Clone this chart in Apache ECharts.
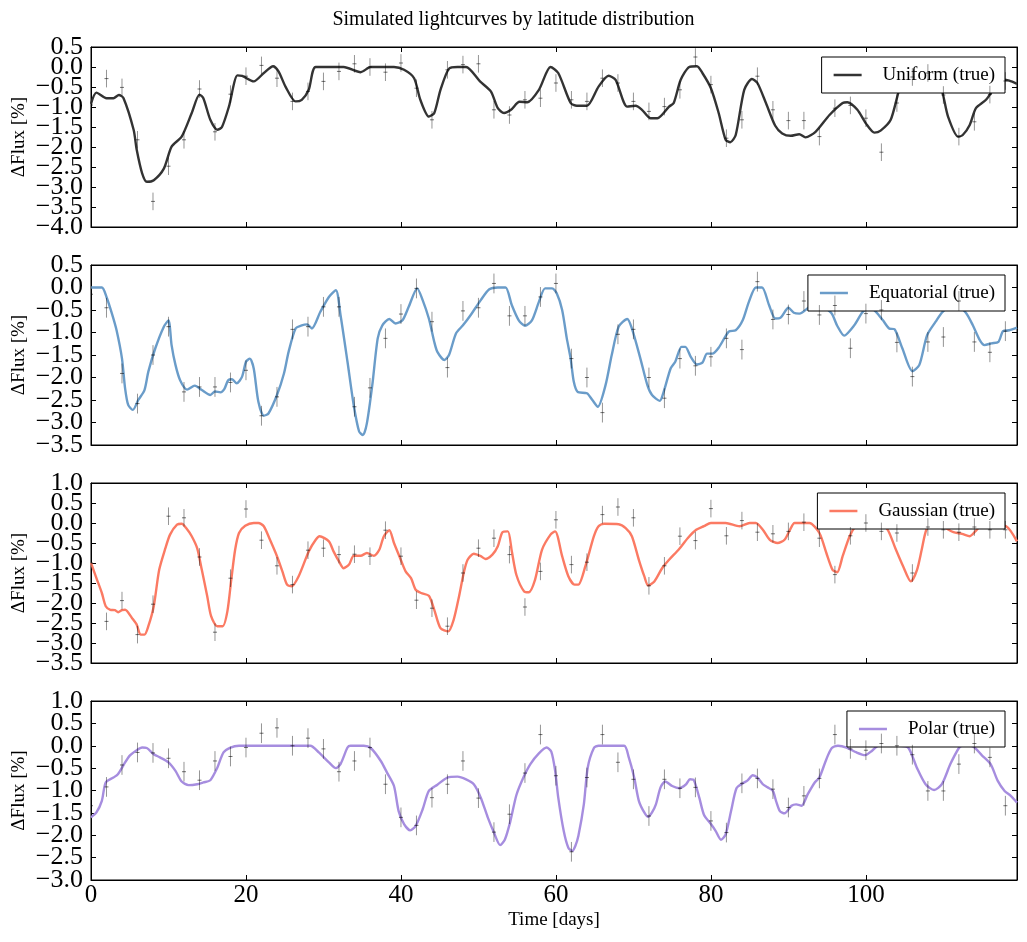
<!DOCTYPE html>
<html>
<head>
<meta charset="utf-8">
<script src="https://cdn.jsdelivr.net/npm/echarts@6/dist/echarts.min.js"></script>
<style>html,body{margin:0;padding:0;background:#fff}#c{width:1027px;height:942px}</style>
</head>
<body>
<div id="c"></div>
<script>
// ---------- DATA ----------
const panelNames = ['Uniform (true)', 'Equatorial (true)', 'Gaussian (true)', 'Polar (true)'];
const yMins = [-4.0, -3.5, -3.5, -3.0];
const yMaxs = [0.5, 0.5, 1.0, 1.0];
const xTicks = [0, 20, 40, 60, 80, 100];
const ERR = 0.22;
const obsTimes = [0,2,4,6,8,10,12,14,16,18,20,22,24,26,28,30,32,34,36,38,40,42,44,46,48,50,52,54,56,58,60,62,64,66,68,70,72,74,76,78,80,82,84,86,88,90,92,94,96,98,100,102,104,106,108,110,112,114,116,118];

const uniformCurve = [[0,-0.92],[0.7,-0.64],[2,-0.78],[2.9,-0.78],[3.6,-0.7],[4.2,-0.78],[5.5,-1.57],[5.9,-2.07],[6.6,-2.66],[7.2,-2.87],[8.1,-2.83],[9.4,-2.54],[10.4,-1.99],[11.7,-1.74],[13,-1.15],[14,-0.69],[14.5,-0.78],[15.4,-1.32],[16.3,-1.57],[16.9,-1.5],[17.8,-0.99],[18.9,-0.21],[19.5,-0.22],[21,-0.36],[22.3,-0.15],[23.5,0.02],[24.2,-0.11],[25.1,-0.49],[26.4,-0.86],[27.2,-0.82],[28.1,-0.57],[29,0],[32.6,0],[34.8,-0.13],[36.1,0],[39.1,0],[40.4,-0.07],[41.7,-0.28],[42.5,-0.82],[43.6,-1.24],[44.3,-1.15],[45.1,-0.57],[46.2,-0.04],[47.3,0],[48.4,0],[50.2,-0.36],[51.6,-0.61],[52.5,-1.03],[53.3,-1.15],[54.2,-1.07],[55.3,-0.87],[56.3,-0.88],[57.8,-0.57],[59.3,0],[60.3,-0.15],[61.9,-0.9],[62.7,-0.97],[64,-0.97],[65.5,-0.49],[66.8,-0.22],[67.7,-0.32],[69.2,-0.99],[70.3,-0.97],[71.1,-1.07],[72.2,-1.28],[73.1,-1.28],[74.6,-0.99],[75.2,-0.9],[76.1,-0.32],[77.2,0],[78.2,0.02],[78.9,-0.15],[80,-0.53],[81,-1.15],[81.9,-1.82],[82.5,-1.88],[83.2,-1.7],[84.3,-0.57],[85.3,-0.3],[86,-0.4],[87.1,-0.9],[88.3,-1.47],[89.2,-1.66],[90.3,-1.72],[91.4,-1.68],[92.2,-1.76],[93.5,-1.62],[95.3,-1.2],[97,-0.9],[97.6,-0.88],[98.9,-1.07],[100,-1.41],[101.1,-1.64],[101.9,-1.59],[103.2,-1.32],[104.3,-0.57],[105,-0.3],[107,-0.05],[109.2,-0.3],[109.9,-0.65],[110.6,-1.24],[111.9,-1.74],[112.5,-1.7],[113.4,-1.45],[114.2,-1.03],[115.5,-0.82],[116.4,-0.57],[117,-0.4],[117.7,-0.32],[118.5,-0.34],[119.5,-0.42]];
const uniformObs = [-0.95,-0.29,-0.51,-1.82,-3.36,-2.48,-1.82,-0.55,-1.62,-0.68,-0.23,0.04,-0.28,-0.86,-0.61,-0.36,-0.11,0.08,0,-0.13,0.1,-0.53,-1.32,-0.07,0.06,0.08,-1.07,-1.2,-0.82,-0.78,-0.4,-0.82,-0.86,-0.28,-0.4,-0.86,-1.11,-0.99,-0.57,0.25,-0.44,-1.78,-1.32,-0.23,-1.07,-1.34,-1.34,-1.74,-1.03,-0.96,-1.28,-2.13,-0.9,-0.25,-0.15,-0.7,-1.74,-1.37,-0.69,-0.35];

const equatorialCurve = [[0,0],[1.4,0],[2,-0.21],[2.7,-0.58],[3.3,-0.95],[4,-1.58],[4.4,-2.24],[4.8,-2.61],[5.4,-2.72],[6.1,-2.5],[6.9,-2.28],[7.4,-1.87],[8.3,-1.35],[9.4,-0.87],[10,-0.73],[10.4,-1.28],[10.9,-1.72],[11.5,-2.06],[12.4,-2.27],[13.4,-2.18],[14.3,-2.28],[15.4,-2.39],[16,-2.31],[16.7,-2.33],[17.2,-2.26],[17.7,-2.06],[18.2,-2.04],[18.8,-2.13],[19.5,-1.98],[20,-1.65],[20.5,-1.58],[21,-1.8],[21.6,-2.54],[22.3,-2.85],[22.9,-2.8],[24,-2.39],[24.9,-1.91],[25.5,-1.43],[26.4,-0.91],[27.2,-0.84],[27.9,-0.82],[28.5,-0.91],[29.6,-0.54],[30.7,-0.21],[31.6,-0.06],[32.2,-0.61],[33.1,-1.65],[33.9,-2.61],[34.6,-3.2],[35.1,-3.28],[35.6,-3.02],[36.3,-2.17],[37,-1.13],[37.6,-0.84],[38.5,-0.7],[39.3,-0.8],[40.2,-0.73],[41,-0.43],[42.1,-0.02],[42.8,-0.28],[43.6,-0.69],[44.3,-1.21],[44.7,-1.43],[45.6,-1.61],[46.2,-1.5],[47.1,-1.02],[48,-0.84],[49,-0.61],[50.3,-0.28],[51.4,-0.04],[52.5,0],[53.5,0],[54.3,-0.39],[55.2,-0.73],[56,-0.85],[56.9,-0.73],[57.8,-0.32],[58.6,-0.02],[59.5,-0.02],[60.1,-0.13],[60.8,-0.5],[61.4,-1.13],[61.9,-1.58],[62.3,-2.09],[62.8,-2.32],[64,-2.35],[64.7,-2.5],[65.4,-2.65],[66.4,-2.17],[67.2,-1.5],[68.1,-0.87],[69.2,-0.7],[69.8,-0.91],[70.9,-1.58],[71.8,-2.17],[72.4,-2.39],[73.4,-2.52],[73.9,-2.32],[74.8,-1.8],[75.4,-1.65],[76.2,-1.32],[76.7,-1.32],[77.4,-1.54],[78.2,-1.71],[78.9,-1.67],[79.5,-1.47],[80.2,-1.47],[81,-1.34],[82.3,-0.98],[83.2,-0.95],[84.1,-0.73],[84.9,-0.32],[85.8,0],[86.6,0],[87.5,-0.39],[88.3,-0.69],[89,-0.67],[90,-0.45],[90.7,-0.56],[91.4,-0.58],[93.5,-0.35],[95.5,-0.56],[96.3,-0.85],[97.2,-1.07],[98.5,-0.84],[99.6,-0.54],[100.5,-0.45],[101.3,-0.54],[102.2,-0.73],[103,-0.91],[103.7,-0.93],[104.7,-1.35],[106,-1.86],[106.9,-1.72],[107.9,-1.06],[109,-0.76],[109.9,-0.54],[111.4,-0.35],[112.9,-0.56],[113.8,-0.84],[114.7,-1.17],[115.3,-1.28],[116.2,-1.24],[117.1,-1.21],[117.7,-0.97],[118.5,-0.95],[119.5,-0.89]];
const equatorialObs = [-0.15,-0.45,-1.91,-2.58,-1.5,-0.87,-2.32,-2.21,-2.21,-2.11,-1.84,-2.85,-2.43,-0.93,-0.87,-0.43,-0.43,-2.65,-2.23,-1.13,-0.59,-0.02,-0.76,-1.78,-0.52,-0.45,0.09,-0.63,-0.63,-0.21,0.09,-1.58,-2.0,-2.78,-1.04,-0.93,-2.0,-2.46,-1.58,-1.74,-1.54,-1.13,-1.38,0.13,-0.71,-0.6,-0.3,-0.61,-0.4,-1.35,-0.58,-0.5,-1.22,-1.98,-1.21,-1.1,-0.3,-1.21,-1.44,-0.97];

const gaussianCurve = [[0,-1.0],[0.7,-1.38],[1.4,-1.75],[1.9,-2.08],[2.5,-2.17],[3.1,-2.18],[3.5,-2.23],[4,-2.18],[4.4,-2.17],[5.3,-2.38],[5.9,-2.54],[6.4,-2.79],[6.9,-2.79],[7.4,-2.58],[8.1,-2.08],[8.8,-1.17],[9.6,-0.63],[10.2,-0.29],[11.1,-0.04],[11.7,-0.02],[12.3,-0.13],[13,-0.33],[13.7,-0.63],[14.3,-1.17],[15,-1.83],[15.5,-2.33],[16.3,-2.58],[17,-2.58],[17.6,-2.21],[18.1,-1.42],[18.6,-0.67],[19.1,-0.25],[19.9,-0.07],[21,0],[21.6,0],[22.3,-0.08],[23.1,-0.42],[24,-0.83],[24.7,-1.21],[25.3,-1.54],[25.9,-1.58],[26.8,-1.33],[28.1,-0.71],[29,-0.42],[29.5,-0.33],[30.7,-0.46],[31.3,-0.71],[32,-0.96],[32.6,-1.13],[33.3,-1.04],[33.9,-0.82],[34.8,-0.82],[35.6,-0.75],[36.5,-0.82],[37.2,-0.67],[37.8,-0.33],[38.5,-0.18],[39.1,-0.5],[39.9,-0.88],[40.6,-1.21],[41.3,-1.38],[41.9,-1.67],[42.6,-1.75],[43.6,-1.82],[44.3,-2.17],[45.1,-2.63],[46.1,-2.71],[46.8,-2.42],[47.5,-1.83],[48.1,-1.25],[48.6,-0.92],[49.4,-0.77],[50.3,-0.83],[50.9,-0.9],[51.8,-0.79],[52.5,-0.58],[53.1,-0.23],[53.8,-0.21],[54.3,-0.7],[54.9,-1.3],[55.9,-1.71],[56.5,-1.73],[57.3,-1.42],[58.2,-0.67],[59.3,-0.29],[59.9,-0.21],[60.8,-0.83],[61.6,-1.33],[62.4,-1.54],[62.9,-1.54],[63.8,-1.08],[64.9,-0.33],[65.5,-0.08],[66.2,-0.02],[68.1,-0.03],[69,-0.13],[69.8,-0.33],[70.7,-0.92],[71.4,-1.33],[71.9,-1.56],[72.7,-1.46],[73.7,-1.13],[74.6,-0.92],[75.9,-0.65],[77,-0.38],[78.1,-0.17],[79.1,-0.08],[80,0],[81.9,0],[83.7,-0.08],[85,0],[85.8,0],[86.7,-0.17],[87.6,-0.42],[88.6,-0.5],[89.5,-0.42],[90.2,-0.17],[90.8,0],[92.7,0],[94,-0.25],[94.9,-0.75],[95.7,-1.17],[96.3,-1.23],[97,-0.83],[97.9,-0.33],[98.6,-0.1],[99.5,0],[102,0],[102.9,-0.2],[103.8,-0.63],[104.8,-1.08],[105.8,-1.46],[106.6,-1.17],[107.2,-0.67],[107.8,-0.17],[108.6,0],[110,-0.1],[111.3,-0.23],[112.4,-0.27],[113.4,-0.33],[114.3,-0.17],[115.2,0],[118.1,-0.08],[119.5,-0.46]];
const gaussianObs = [-1.0,-2.46,-1.94,-2.79,-2.03,0.17,0.13,-0.85,-2.73,-1.38,0.35,-0.43,-1.07,-1.54,-0.68,-0.63,-0.79,-0.78,-0.83,-0.18,-0.83,-1.93,-2.13,-2.58,-1.25,-0.63,-0.38,-0.79,-2.1,-1.21,0.08,-1.04,-0.98,0.21,0.4,0.13,-1.57,-1.07,-0.33,-0.44,0.36,-0.32,0.06,-0.23,-0.27,-0.21,0.02,-0.38,-1.29,-0.32,0,-0.21,-0.25,-1.25,-0.1,-0.17,-0.23,-0.1,-0.17,-0.17];

const polarCurve = [[0,-1.6],[0.7,-1.49],[1.4,-1.23],[1.9,-0.82],[2.9,-0.71],[3.5,-0.63],[4.2,-0.43],[5,-0.22],[5.9,-0.1],[6.6,-0.04],[7.2,-0.05],[8.1,-0.19],[8.9,-0.26],[10,-0.37],[10.9,-0.56],[11.7,-0.8],[12.6,-0.88],[13.7,-0.86],[14.5,-0.82],[15.4,-0.77],[16.3,-0.49],[17.1,-0.15],[18,-0.04],[19.1,0],[28.3,0],[29.4,-0.15],[30.7,-0.37],[31.6,-0.5],[32.2,-0.41],[33.1,-0.04],[33.5,0],[35.2,0],[36.1,-0.05],[37.4,-0.34],[38.2,-0.6],[39.1,-0.9],[39.7,-1.46],[40.4,-1.75],[41.2,-1.89],[41.9,-1.79],[42.8,-1.42],[43.6,-1.01],[44.7,-0.87],[46,-0.71],[47.3,-0.69],[48.4,-0.75],[49.4,-0.86],[50.3,-1.16],[51.2,-1.6],[52,-1.94],[52.8,-2.22],[53.4,-2.1],[54.1,-1.7],[54.9,-1.1],[55.8,-0.71],[56.7,-0.41],[57.8,-0.17],[58.8,-0.04],[59.4,-0.13],[59.9,-0.56],[60.3,-1.16],[61,-1.9],[61.6,-2.28],[62.1,-2.35],[62.5,-2.24],[62.9,-2.01],[63.6,-1.31],[64.1,-0.49],[64.9,-0.05],[65.5,0],[68.8,0],[69.4,-0.26],[70.1,-0.71],[70.7,-1.23],[71.4,-1.49],[71.9,-1.59],[72.4,-1.49],[72.9,-1.31],[73.5,-0.93],[74.1,-0.8],[75,-0.9],[75.9,-0.95],[76.8,-0.86],[77.3,-0.75],[77.8,-0.77],[78.5,-1.16],[79.1,-1.54],[80,-1.75],[80.6,-1.9],[81.3,-2.1],[81.9,-1.98],[82.6,-1.46],[83.3,-0.95],[84.1,-0.84],[84.7,-0.78],[85.4,-0.66],[86,-0.71],[86.7,-0.86],[87.3,-0.93],[88,-1.01],[88.4,-1.23],[88.9,-1.46],[89.5,-1.51],[90.4,-1.34],[91,-1.31],[91.7,-1.34],[92.5,-1.08],[93.4,-0.82],[94,-0.71],[94.9,-0.3],[95.6,-0.05],[96.4,0],[97.5,-0.04],[98.8,-0.15],[99.9,-0.21],[100.8,-0.11],[101.6,0],[104.5,0],[105.5,-0.05],[106.6,-0.5],[107.7,-0.86],[108.8,-0.99],[109.8,-0.86],[110.9,-0.41],[112,-0.05],[112.4,0],[113.6,0],[115,-0.22],[116.1,-0.41],[117,-0.78],[117.9,-1.01],[118.7,-1.12],[119.5,-1.27]];
const polarObs = [-1.34,-0.92,-0.43,-0.15,-0.16,-0.28,-0.58,-0.77,-0.34,-0.24,-0.04,0.28,0.4,0,0.17,-0.07,-0.58,-0.34,-0.04,-0.86,-1.6,-1.78,-1.16,-0.86,-0.34,-1.17,-1.93,-1.53,-0.61,0.25,-0.67,-2.37,-0.71,0.25,-0.37,-0.75,-1.57,-0.75,-0.95,-0.93,-1.68,-1.94,-0.84,-0.73,-0.97,-1.38,-1.12,-0.73,0.25,-0.07,-0.1,0.05,0,-0.2,-1.01,-1.01,-0.41,0.05,-0.26,-1.34];

const curves = [uniformCurve, equatorialCurve, gaussianCurve, polarCurve];
const observations = [uniformObs, equatorialObs, gaussianObs, polarObs];
const colors = ['#333333', '#6a9cc9', '#fb7a63', '#a68ddf'];

// ---------- LAYOUT ----------
const tops = [47, 265, 483, 701];
const heights = [180, 180, 180, 179];
const FONT = "'Liberation Serif', 'DejaVu Serif', serif";
const YSTEP = 0.5;
function fmtYParity(min, parity) {
  return v => {
    const idx = Math.round((v - min) / YSTEP);
    if (idx % 2 !== parity) return '';
    const a = Math.abs(v).toFixed(1);
    return (v < -1e-9 ? '\u2212' : '') + a;
  };
}

const grid = [], xAxis = [], yAxis = [], series = [], legend = [];
for (let i = 0; i < 4; i++) {
  grid.push({left: 91, right: 10, top: tops[i], height: heights[i], show: true,
    containLabel: false, outerBoundsMode: 'none',
    borderColor: '#000', borderWidth: 1, backgroundColor: 'transparent'});
  const tickBase = {show: true, inside: true, length: 5, lineStyle: {color: '#000', width: 1}};
  xAxis.push({type: 'value', gridIndex: i, min: 0, max: 119.5, interval: 20, position: 'bottom',
    axisLine: {show: true, onZero: false, lineStyle: {color: '#000', width: 1}},
    axisTick: tickBase, splitLine: {show: false},
    axisLabel: {show: i === 3, margin: 3, color: '#000', fontFamily: FONT, fontSize: 25,
      showMaxLabel: false, showMinLabel: true,
      formatter: v => (xTicks.indexOf(v) >= 0 ? String(v) : '')},
    name: i === 3 ? 'Time [days]' : '', nameLocation: 'middle', nameGap: 31,
    nameTextStyle: {color: '#000', fontFamily: FONT, fontSize: 19}});
  xAxis.push({type: 'value', gridIndex: i, min: 0, max: 119.5, interval: 20, position: 'top',
    axisLine: {show: true, onZero: false, lineStyle: {color: '#000', width: 1}},
    axisTick: tickBase, splitLine: {show: false}, axisLabel: {show: false}});
  const labelBase = {show: true, margin: 8, color: '#000', fontFamily: FONT, fontSize: 26,
    showMinLabel: true, showMaxLabel: true, hideOverlap: false};
  // main left axis (line, ticks, even-index labels, name)
  yAxis.push({type: 'value', gridIndex: i, min: yMins[i], max: yMaxs[i], interval: YSTEP, position: 'left',
    axisLine: {show: true, onZero: false, lineStyle: {color: '#000', width: 1}},
    axisTick: tickBase, splitLine: {show: false},
    axisLabel: Object.assign({}, labelBase, {formatter: fmtYParity(yMins[i], 0)}),
    name: '\u0394Flux [%]', nameLocation: 'middle', nameGap: 62, nameMoveOverlap: false,
    nameTextStyle: {color: '#000', fontFamily: FONT, fontSize: 19}});
  // right axis (ticks only)
  yAxis.push({type: 'value', gridIndex: i, min: yMins[i], max: yMaxs[i], interval: YSTEP, position: 'right',
    axisLine: {show: true, onZero: false, lineStyle: {color: '#000', width: 1}},
    axisTick: tickBase, splitLine: {show: false}, axisLabel: {show: false}});
  // second left axis carrying the odd-index labels
  yAxis.push({type: 'value', gridIndex: i, min: yMins[i], max: yMaxs[i], interval: YSTEP, position: 'left', offset: 0,
    axisLine: {show: false, onZero: false}, axisTick: {show: false}, splitLine: {show: false},
    axisLabel: Object.assign({}, labelBase, {formatter: fmtYParity(yMins[i], 1)})});

  series.push({name: panelNames[i], type: 'line', xAxisIndex: 2 * i, yAxisIndex: 3 * i,
    data: curves[i], showSymbol: false, symbol: 'none', smooth: 0.25, z: 3,
    lineStyle: {color: colors[i], width: 2.4}, itemStyle: {color: colors[i]}, clip: true});
  series.push({name: 'obs' + i, type: 'custom', xAxisIndex: 2 * i, yAxisIndex: 3 * i, z: 4, clip: true,
    data: obsTimes.map((t, k) => [t, observations[i][k], ERR]),
    renderItem: function (params, api) {
      const x = api.value(0), y = api.value(1), e = api.value(2);
      const p1 = api.coord([x, y + e]), p2 = api.coord([x, y - e]), c = api.coord([x, y]);
      return {type: 'group', children: [
        {type: 'line', shape: {x1: p1[0], y1: p1[1], x2: p2[0], y2: p2[1]},
          style: {stroke: 'rgba(0,0,0,0.42)', lineWidth: 1}},
        {type: 'line', shape: {x1: c[0] - 2, y1: c[1], x2: c[0] + 2, y2: c[1]},
          style: {stroke: 'rgba(0,0,0,0.55)', lineWidth: 1}}
      ]};
    }});

  legend.push({data: [{name: panelNames[i], icon: 'rect'}], right: 22, top: tops[i] + 10, orient: 'horizontal',
    backgroundColor: '#fff', borderColor: '#000', borderWidth: 1, borderRadius: 0,
    padding: [7, 10, 7, 12], itemWidth: 28, itemHeight: 2.5, selectedMode: false,
    itemStyle: {borderWidth: 0},
    textStyle: {color: '#000', fontFamily: FONT, fontSize: 19, padding: [0, 0, 0, 16], lineHeight: 22}});
}

const chart = echarts.init(document.getElementById('c'), null, {renderer: 'canvas'});
chart.setOption({
  animation: false,
  backgroundColor: '#fff',
  title: {text: 'Simulated lightcurves by latitude distribution', left: 'center', top: 5,
    textStyle: {color: '#000', fontFamily: FONT, fontSize: 20, fontWeight: 'normal'}},
  grid, xAxis, yAxis, series, legend
});
</script>
</body>
</html>
